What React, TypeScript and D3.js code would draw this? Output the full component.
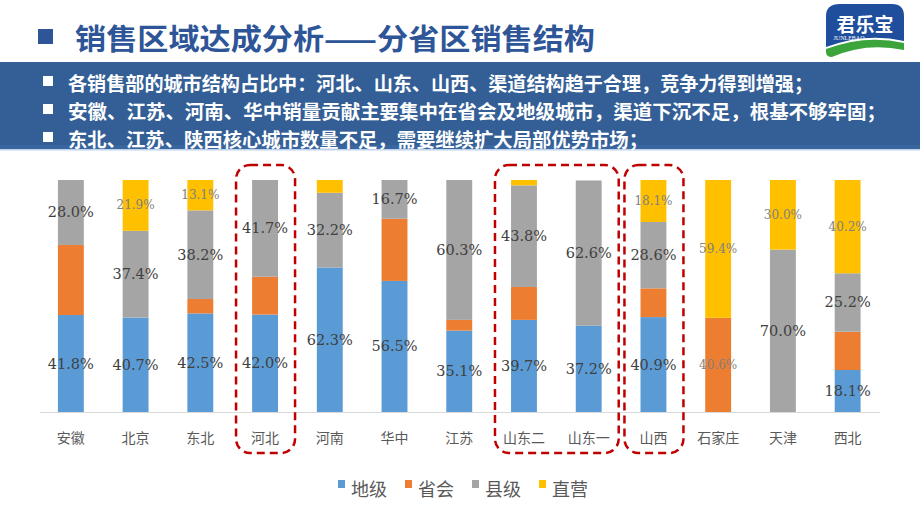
import * as d3 from "d3";

const categories = ["安徽", "北京", "东北", "河北", "河南", "华中", "江苏", "山东二", "山东一", "山西", "石家庄", "天津", "西北"];
const seriesNames = ["地级", "省会", "县级", "直营"];
const diji = [41.8, 40.7, 42.5, 42.0, 62.3, 56.5, 35.1, 39.7, 37.2, 40.9, 0, 0, 18.1];
const shenghui = [30.2, 0, 6.2, 16.3, 0, 26.8, 4.6, 14.2, 0, 12.4, 40.6, 0, 16.5];
const xianji = [28.0, 37.4, 38.2, 41.7, 32.2, 16.7, 60.3, 43.8, 62.6, 28.6, 0, 70.0, 25.2];
const zhiying = [0, 21.9, 13.1, 0, 5.5, 0, 0, 2.3, 0, 18.1, 59.4, 30.0, 40.2];
const colors = ["#5B9BD5", "#ED7D31", "#A5A5A5", "#FFC000"];

// which segments carry a value label
const labelledOrange = ["石家庄"];
const minYellowLabel = 10;

const highlightGroups = [["河北"], ["山东二", "山东一"], ["山西"]];

const title = "销售区域达成分析——分省区销售结构";
const bullets = [
  "各销售部的城市结构占比中：河北、山东、山西、渠道结构趋于合理，竞争力得到增强；",
  "安徽、江苏、河南、华中销量贡献主要集中在省会及地级城市，渠道下沉不足，根基不够牢固；",
  "东北、江苏、陕西核心城市数量不足，需要继续扩大局部优势市场；",
];
const bulletWidths = [745, 818, 580];

const W = 920;
const H = 518;
const cjk = "'Noto Sans CJK SC', 'Noto Sans', sans-serif";

export default function App() {
  const x = d3.scaleBand<string>().domain(categories).range([38.5, 880]).paddingInner(0.6).paddingOuter(0.3);
  const y = d3.scaleLinear().domain([0, 100]).range([412, 180]);

  const rows = categories.map((c, i) => ({
    cat: c,
    地级: diji[i],
    省会: shenghui[i],
    县级: xianji[i],
    直营: zhiying[i],
  }));
  const stacked = d3.stack<any>().keys(seriesNames)(rows);
  const bw = x.bandwidth();

  const showLabel = (si: number, cat: string, v: number) => {
    if (v <= 0) return false;
    if (si === 1) return labelledOrange.includes(cat);
    if (si === 3) return v >= minYellowLabel;
    return true;
  };

  const legendX = [338, 405, 472, 539];

  return (
    <svg width={W} height={H} style={{ position: "fixed", left: 0, top: 0, background: "#fff" }}>
      {/* header */}
      <rect x={38} y={29} width={15} height={15} fill="#2E5597" />
      <text x={75} y={37} dominantBaseline="central" fontFamily={cjk} fontWeight="bold" fontSize={29} fill="#2E5597" textLength={520} lengthAdjust="spacingAndGlyphs">
        {title}
      </text>

      {/* logo */}
      <g>
        <path d="M826,16 Q826,4 840,4 L892,4 Q904,4 904,16 L904,41 Q866,32 826,47 Z" fill="#1E4E9C" />
        <path d="M826,49 Q866,34 904,43 L904,50 Q866,42 832,57 Q826,57 826,52 Z" fill="#3BA53B" />
        <text x={865} y={23} textAnchor="middle" dominantBaseline="central" fontFamily={cjk} fontWeight="bold" fontSize={19} fill="#fff">君乐宝</text>
        <text x={849} y={40} textAnchor="middle" fontFamily="'Liberation Serif', serif" fontSize={6} fill="#fff">JUNLEBAO</text>
      </g>

      {/* blue band */}
      <rect x={0} y={62} width={W} height={88} fill="#345F96" />
      <rect x={0} y={145} width={W} height={4} fill="#3A66A0" />
      <rect x={0} y={149} width={W} height={1.5} fill="#BFD3EC" />
      {bullets.map((b, i) => (
        <g key={i}>
          <rect x={43} y={76 + i * 28} width={10} height={10} fill="#fff" />
          <text x={68} y={82 + i * 28} dominantBaseline="central" fontFamily={cjk} fontWeight="bold" fontSize={19} fill="#fff" textLength={bulletWidths[i]} lengthAdjust="spacingAndGlyphs">
            {b}
          </text>
        </g>
      ))}

      {/* baseline */}
      <line x1={40} x2={880} y1={y(0) + 0.5} y2={y(0) + 0.5} stroke="#D9D9D9" strokeWidth={1} />

      {/* bars */}
      {stacked.map((s, si) => (
        <g key={s.key} fill={colors[si]}>
          {s.map((d, i) =>
            d[1] - d[0] > 0 ? (
              <rect key={i} x={x(categories[i])} y={y(d[1])} width={bw} height={y(d[0]) - y(d[1])} />
            ) : null
          )}
        </g>
      ))}

      {/* value labels */}
      {stacked.map((s, si) => (
        <g key={"l" + s.key}>
          {s.map((d, i) => {
            const v = d[1] - d[0];
            const cat = categories[i];
            if (!showLabel(si, cat, v)) return null;
            const light = si === 1 || si === 3;
            return (
              <text
                key={i}
                x={(x(cat) as number) + bw / 2}
                y={y((d[0] + d[1]) / 2)}
                textAnchor="middle"
                dominantBaseline="central"
                fontFamily="'DejaVu Serif', serif"
                fontSize={light ? 12 : 14.5}
                fill={light ? "#808080" : "#404040"}
              >
                {v.toFixed(1)}%
              </text>
            );
          })}
        </g>
      ))}

      {/* category labels */}
      {categories.map((c) => (
        <text key={c} x={(x(c) as number) + bw / 2} y={437} textAnchor="middle" dominantBaseline="central" fontFamily={cjk} fontSize={14} fill="#595959">
          {c}
        </text>
      ))}

      {/* highlight boxes */}
      {highlightGroups.map((g, i) => {
        const x0 = (x(g[0]) as number) + bw / 2 - 29;
        const x1 = (x(g[g.length - 1]) as number) + bw / 2 + 30;
        return (
          <rect key={i} x={x0} y={165} width={x1 - x0} height={288} rx={14} fill="none" stroke="#C00000" strokeWidth={2.5} strokeDasharray="8 5" />
        );
      })}

      {/* legend */}
      {seriesNames.map((n, i) => (
        <g key={n}>
          <rect x={legendX[i]} y={480} width={7} height={8} fill={colors[i]} />
          <text x={legendX[i] + 13} y={488} dominantBaseline="central" fontFamily={cjk} fontSize={18} fill="#595959">
            {n}
          </text>
        </g>
      ))}
    </svg>
  );
}
